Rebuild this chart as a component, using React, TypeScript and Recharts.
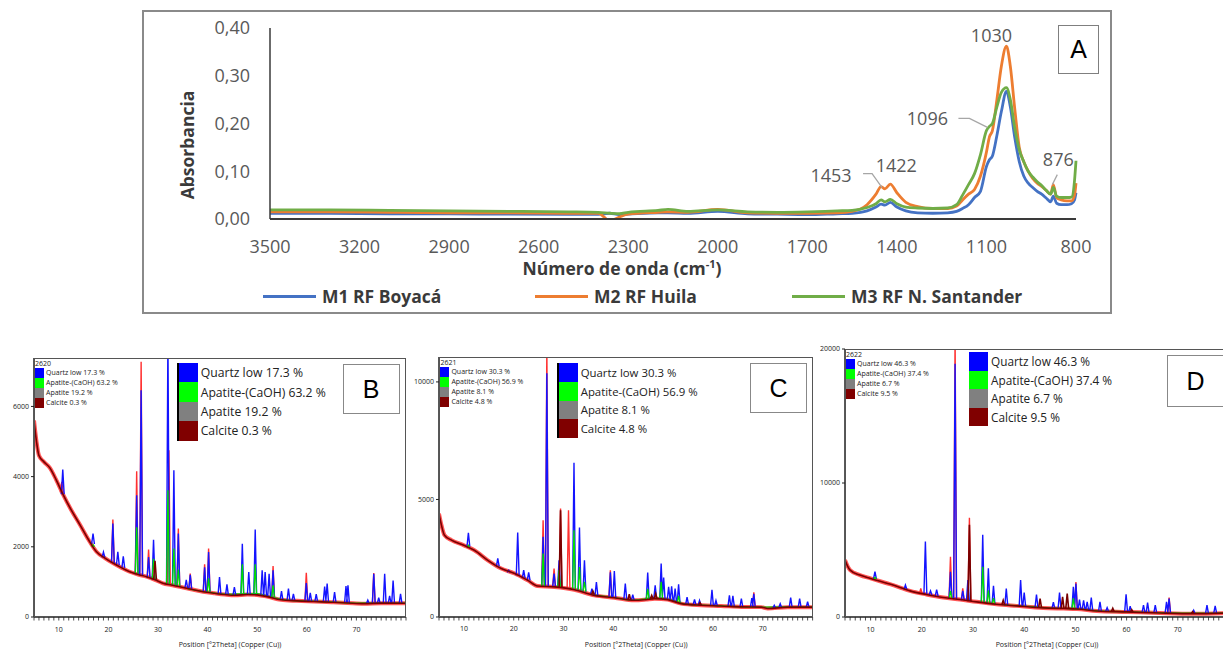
import React from 'react';
import { LineChart, Line, XAxis, YAxis, ReferenceDot } from 'recharts';

// ---------- panel A: FTIR ----------
const wavenumbers = [3500, 3300, 3100, 2900, 2700, 2500, 2400, 2362, 2330, 2300, 2200, 2167, 2100, 2000, 1900, 1800, 1700, 1600, 1550, 1500, 1470, 1453, 1440, 1422, 1400, 1370, 1330, 1280, 1230, 1200, 1180, 1160, 1140, 1120, 1100, 1090, 1080, 1065, 1050, 1033, 1020, 1005, 990, 975, 960, 945, 930, 915, 900, 885, 876, 865, 850, 830, 815, 805, 800];
const m1Boyaca = [0.012, 0.012, 0.011, 0.011, 0.010, 0.010, 0.010, 0.012, 0.009, 0.010, 0.013, 0.013, 0.012, 0.016, 0.011, 0.010, 0.009, 0.011, 0.012, 0.017, 0.025, 0.031, 0.029, 0.035, 0.025, 0.017, 0.013, 0.012, 0.013, 0.016, 0.022, 0.030, 0.045, 0.058, 0.110, 0.124, 0.132, 0.175, 0.225, 0.267, 0.235, 0.170, 0.120, 0.090, 0.075, 0.066, 0.058, 0.052, 0.044, 0.036, 0.048, 0.033, 0.030, 0.030, 0.032, 0.040, 0.055];
const m2Huila = [0.015, 0.015, 0.014, 0.013, 0.013, 0.012, 0.012, -0.004, 0.004, 0.010, 0.014, 0.015, 0.014, 0.020, 0.013, 0.012, 0.012, 0.013, 0.016, 0.030, 0.052, 0.068, 0.063, 0.073, 0.055, 0.035, 0.026, 0.022, 0.022, 0.027, 0.040, 0.052, 0.062, 0.090, 0.140, 0.172, 0.185, 0.250, 0.320, 0.362, 0.320, 0.230, 0.150, 0.120, 0.100, 0.085, 0.075, 0.068, 0.060, 0.052, 0.072, 0.045, 0.040, 0.038, 0.038, 0.050, 0.075];
const m3Santander = [0.019, 0.019, 0.018, 0.017, 0.016, 0.015, 0.014, 0.012, 0.011, 0.014, 0.018, 0.020, 0.016, 0.019, 0.015, 0.014, 0.015, 0.017, 0.018, 0.024, 0.032, 0.040, 0.036, 0.041, 0.032, 0.025, 0.023, 0.022, 0.023, 0.030, 0.050, 0.072, 0.095, 0.135, 0.185, 0.194, 0.200, 0.235, 0.265, 0.275, 0.250, 0.190, 0.145, 0.120, 0.100, 0.088, 0.078, 0.070, 0.060, 0.052, 0.066, 0.048, 0.045, 0.045, 0.046, 0.080, 0.122];
const wnTicks = [3500, 3200, 2900, 2600, 2300, 2000, 1700, 1400, 1100, 800];
const absTicks = [0, 0.1, 0.2, 0.3, 0.4];
const ftirNames = ['M1 RF Boyacá', 'M2 RF Huila', 'M3 RF N. Santander'];
const ftirColors = ['#4472C4', '#ED7D31', '#70AD47'];

const ftirRows = wavenumbers.map((wn, i) => ({ wn, m1: m1Boyaca[i], m2: m2Huila[i], m3: m3Santander[i] }));

// peak labels: text, wavenumber, series it points at
const peakLabels: [string, number, 'm1' | 'm2' | 'm3'][] = [
  ['1030', 1033, 'm2'],
  ['1096', 1090, 'm3'],
  ['1453', 1453, 'm2'],
  ['1422', 1422, 'm2'],
  ['876', 876, 'm2'],
];

// ---------- panels B, C, D: XRD ----------
// background [2theta, counts]
const bgB = [[5.0, 5600], [5.5, 5000], [6.0, 4600], [7.0, 4420], [8.2, 4250], [9.5, 3900], [10.9, 3480], [12.5, 3050], [14.3, 2620], [16.0, 2200], [17.6, 1860], [19.3, 1680], [21.0, 1530], [22.7, 1400], [24.3, 1290], [26.0, 1210], [27.7, 1150], [29.4, 1060], [31.0, 960], [32.7, 910], [34.4, 860], [36.7, 790], [39.1, 720], [41.4, 675], [43.5, 640], [45.5, 620], [48.0, 640], [50.0, 630], [52.0, 580], [54.8, 490], [58.0, 460], [61.5, 440], [65.0, 420], [68.2, 400], [71.5, 380], [75.0, 395], [80.0, 390]];
const apatiteBaseB = [[36, 800], [40, 710], [44, 650], [47, 660], [50, 665], [53, 565], [56, 485], [60, 455], [65, 428], [70, 395], [75, 402], [80, 396]];
// peaks [2theta, base, top]
const quartzB = [[10.8, 3500, 4200], [16.9, 2080, 2380], [19.0, 1700, 1850], [20.9, 1540, 2660], [21.9, 1480, 1860], [23.0, 1400, 1730], [25.7, 1220, 3470], [26.6, 1190, 6460], [28.1, 1120, 1710], [29.1, 1070, 2200], [32.0, 930, 8000], [33.2, 900, 4180], [34.1, 870, 2380], [35.7, 820, 1060], [36.5, 800, 1200], [39.4, 720, 1420], [40.2, 700, 1850], [42.4, 650, 1140], [43.9, 630, 930], [45.4, 620, 850], [47.0, 630, 2090], [48.3, 640, 1280], [49.6, 640, 2490], [51.0, 610, 1330], [51.6, 600, 1280], [52.4, 580, 1230], [53.2, 560, 1330], [54.9, 490, 740], [56.3, 480, 810], [57.3, 470, 660], [59.9, 450, 970], [60.7, 445, 690], [61.9, 440, 650], [63.6, 430, 870], [64.1, 428, 950], [65.6, 420, 710], [67.9, 405, 880], [68.3, 400, 900], [72.3, 385, 480], [73.5, 390, 1230], [74.5, 392, 550], [75.7, 395, 1230], [76.7, 393, 600], [77.4, 392, 1040], [78.9, 390, 660]];
const observedB = [[10.6, 3550, 3850], [20.9, 1540, 2780], [25.7, 1220, 4150], [26.6, 1190, 7270], [28.1, 1120, 1920], [32.2, 925, 4750], [34.1, 870, 2520], [36.5, 800, 1240], [39.4, 720, 1500], [40.2, 700, 1950], [53.2, 560, 1450], [59.9, 450, 1260], [73.5, 390, 1250]];
const apatiteB = [[16.9, 2000, 2060], [25.7, 1220, 2560], [29.1, 1070, 1660], [32.0, 930, 3610], [33.2, 900, 1950], [34.1, 870, 1350], [40.2, 700, 1100], [47.0, 630, 1500], [49.6, 640, 1500], [53.2, 560, 900]];
const calciteB = [[29.4, 1060, 1600]];

const bgC = [[5.0, 4400], [5.5, 3900], [6.1, 3480], [7.5, 3270], [10.0, 3050], [12.1, 2840], [14.8, 2410], [17.5, 2060], [20.2, 1850], [22.8, 1560], [24.8, 1320], [28.2, 1280], [32.2, 1160], [36.2, 920], [40.2, 820], [44.2, 710], [46.5, 740], [48.3, 780], [50.9, 740], [53.6, 570], [57.6, 500], [61.6, 470], [65.7, 430], [69.7, 420], [71.0, 360], [75.0, 420], [80.0, 420]];
const apatiteBaseC = [[36, 935], [40, 835], [44, 725], [48, 800], [51, 760], [54, 565], [58, 505], [62, 475], [66, 435], [70, 422], [75, 424], [80, 426]];
const quartzC = [[10.9, 3000, 3580], [16.8, 2150, 2490], [19.0, 1900, 1990], [20.8, 1780, 3590], [22.0, 1650, 1990], [23.0, 1560, 1900], [25.9, 1300, 3410], [26.65, 1290, 10370], [28.1, 1280, 1850], [29.1, 1250, 2410], [32.1, 1160, 6560], [33.2, 1120, 3810], [34.2, 1080, 2410], [35.7, 960, 1210], [36.6, 920, 1490], [39.4, 840, 1900], [40.2, 820, 1950], [42.4, 760, 1420], [43.9, 720, 950], [46.9, 760, 1890], [48.4, 780, 1350], [49.6, 770, 2270], [50.1, 760, 1680], [51.1, 730, 1280], [51.7, 700, 1310], [52.4, 650, 1210], [53.1, 600, 1390], [54.8, 540, 850], [56.3, 520, 750], [57.3, 500, 700], [59.8, 485, 1160], [60.6, 480, 700], [63.3, 460, 920], [64.0, 455, 900], [65.7, 430, 780], [67.8, 425, 800], [68.2, 425, 990], [72.3, 380, 500], [73.5, 400, 560], [75.6, 420, 820], [77.4, 420, 780], [79.0, 420, 650]];
const observedC = [[25.9, 1300, 4120], [26.65, 1290, 11500], [28.1, 1280, 2060], [29.4, 1240, 4620], [31.0, 1200, 4540], [39.4, 840, 1990], [68.2, 425, 1050]];
const apatiteC = [[10.9, 2950, 3050], [25.9, 1300, 2700], [29.1, 1250, 2000], [32.1, 1160, 3690], [33.2, 1120, 2130], [34.2, 1080, 1500], [46.9, 760, 1200], [49.6, 770, 1500], [53.1, 600, 900]];
const calciteC = [[29.4, 1240, 4540], [35.9, 950, 1100], [43.2, 730, 970], [47.7, 770, 920], [48.5, 780, 1000], [57.4, 500, 600]];

const bgD = [[5.0, 4250], [5.5, 3800], [6.0, 3500], [7.9, 3130], [10.0, 2880], [14.4, 2380], [17.7, 1950], [20.9, 1680], [24.2, 1450], [27.5, 1300], [30.7, 1130], [34.6, 950], [38.5, 830], [43.7, 680], [47.7, 630], [50.3, 600], [54.2, 450], [60.0, 380], [66.5, 300], [73.1, 250], [80.0, 300]];
const apatiteBaseD = [[36, 905], [40, 815], [44, 695], [48, 645], [51, 595], [55, 445], [60, 395], [66, 325], [73, 275], [80, 315]];
const quartzD = [[10.85, 2850, 3380], [16.8, 2050, 2380], [20.7, 1700, 5630], [21.7, 1640, 1950], [22.9, 1560, 2050], [25.6, 1360, 3380], [26.5, 1330, 18900], [28.0, 1250, 1950], [29.0, 1200, 2750], [31.9, 1050, 6130], [33.0, 1000, 3630], [34.0, 960, 2330], [36.5, 880, 2130], [39.3, 820, 2750], [40.0, 800, 1830], [42.4, 730, 1680], [45.7, 650, 1100], [46.9, 640, 1830], [49.6, 610, 2250], [50.1, 600, 2500], [50.8, 580, 1300], [51.6, 560, 1250], [52.3, 540, 1130], [53.1, 500, 1450], [54.8, 440, 1130], [56.2, 420, 700], [59.9, 380, 1700], [60.7, 370, 800], [63.3, 340, 880], [64.1, 330, 1080], [65.6, 310, 880], [67.8, 290, 1130], [68.3, 285, 1380], [73.1, 250, 500], [75.7, 270, 880], [77.3, 290, 830]];
const observedD = [[19.8, 1700, 2130], [25.6, 1360, 4500], [26.5, 1330, 21000], [28.0, 1250, 2130], [29.3, 1180, 7400], [50.1, 600, 2600], [68.3, 285, 1450]];
const apatiteD = [[10.85, 2850, 2950], [25.6, 1360, 1950], [31.9, 1050, 3750], [33.0, 1000, 2000], [34.0, 960, 1400], [49.6, 610, 1400]];
const calciteD = [[29.3, 1180, 6880], [35.9, 900, 1250], [43.1, 700, 1380], [47.5, 630, 1500], [48.4, 620, 1750], [57.3, 400, 650], [61.0, 370, 550], [72.9, 250, 400]];

const phasesB = ['Quartz low 17.3 %', 'Apatite-(CaOH) 63.2 %', 'Apatite 19.2 %', 'Calcite 0.3 %'];
const phasesC = ['Quartz low 30.3 %', 'Apatite-(CaOH) 56.9 %', 'Apatite 8.1 %', 'Calcite 4.8 %'];
const phasesD = ['Quartz low 46.3 %', 'Apatite-(CaOH) 37.4 %', 'Apatite 6.7 %', 'Calcite 9.5 %'];
const phaseColors = ['#0000ff', '#00ff00', '#808080', '#800000'];
const thetaLabels = [10, 20, 30, 40, 50, 60, 70];
const thetaMinor = Array.from({ length: 76 }, (_, i) => i + 5);

const FONT = '"Open Sans", "Liberation Sans", sans-serif';
const SEGOE = '"Open Sans", "Noto Sans", sans-serif';

const toPts = (arr: number[][]) => arr.map(([x, y]) => ({ x, y }));
const spikes = (arr: number[][]) =>
  arr.flatMap(([t, base, top]) => [
    { x: t - 0.28, y: base },
    { x: t, y: top },
    { x: t + 0.28, y: base },
    { x: t + 0.29, y: null as number | null },
  ]);

const ThetaTick = (props: any) => {
  const { x, y, payload } = props;
  const v = payload.value;
  return (
    <g>
      <line x1={x} x2={x} y1={y} y2={y + 3.5} stroke="#222" strokeWidth={0.8} />
      {thetaLabels.includes(v) ? (
        <text x={x} y={y + 12} textAnchor="middle" dominantBaseline="central" fontSize={7} fill="#222" fontFamily={SEGOE}>
          {v}
        </text>
      ) : null}
    </g>
  );
};

type XrdProps = {
  plotLeft: number; plotTop: number; plotW: number; plotH: number;
  yMax: number; yTicks: number[];
  bg: number[][]; apBase: number[][];
  quartz: number[][]; observed: number[][]; apatite: number[][]; calcite: number[][];
  code: string; phases: string[]; letter: string;
  legendDx: number; legendDy: number; rowH: number; legendFont: number; legendBar: boolean;
  boxDx: number; boxW: number; boxH: number;
};

const XrdPanel = (p: XrdProps) => {
  const W = p.plotW + 42;
  const H = p.plotH + 40;
  return (
    <div style={{ position: 'absolute', left: p.plotLeft - 40, top: p.plotTop - 10, width: W, height: H }}>
      <LineChart width={W} height={H} margin={{ top: 10, right: 2, left: 0, bottom: 20 }}>
        <XAxis dataKey="x" type="number" domain={[5, 80]} allowDataOverflow ticks={thetaMinor} interval={0}
          height={10} tickSize={0} tickMargin={0} tickLine={false} tick={<ThetaTick />}
          axisLine={{ stroke: '#222', strokeWidth: 1.5 }} />
        <YAxis type="number" domain={[0, p.yMax]} allowDataOverflow ticks={p.yTicks} width={40}
          tickSize={3} tickMargin={2} tickLine={{ stroke: '#222' }} axisLine={{ stroke: '#222', strokeWidth: 1.5 }}
          tick={{ fontSize: 7, fill: '#222', fontFamily: SEGOE }} />
        <Line data={toPts(p.bg)} dataKey="y" type="monotone" stroke="#ff2a2a" strokeWidth={4} strokeOpacity={0.8} dot={false} isAnimationActive={false} />
        <Line data={toPts(p.apBase)} dataKey="y" type="monotone" stroke="#10d010" strokeWidth={1.4} dot={false} isAnimationActive={false} />
        <Line data={spikes(p.observed)} dataKey="y" type="linear" stroke="#ff3030" strokeWidth={1.4} dot={false} isAnimationActive={false} />
        <Line data={spikes(p.quartz)} dataKey="y" type="linear" stroke="#1414ff" strokeWidth={1.4} dot={false} isAnimationActive={false} />
        <Line data={spikes(p.apatite)} dataKey="y" type="linear" stroke="#00e000" strokeWidth={1.3} dot={false} isAnimationActive={false} />
        <Line data={spikes(p.calcite)} dataKey="y" type="linear" stroke="#7a0000" strokeWidth={1.6} dot={false} isAnimationActive={false} />
        <Line data={toPts(p.bg)} dataKey="y" type="monotone" stroke="#7a0000" strokeWidth={1.6} dot={false} isAnimationActive={false} />
      </LineChart>
      {/* plot frame */}
      <div style={{ position: 'absolute', left: 40, top: 10, width: p.plotW, height: p.plotH, border: '1px solid #555', boxSizing: 'border-box', pointerEvents: 'none' }} />
      {/* small legend */}
      <div style={{ position: 'absolute', left: 41, top: 11, fontFamily: SEGOE, fontSize: 7, color: '#222', lineHeight: '10px' }}>
        <div style={{ height: 9, lineHeight: '9px' }}>{p.code}</div>
        {p.phases.map((t, i) => (
          <div key={t} style={{ display: 'flex', alignItems: 'center', height: 10 }}>
            <span style={{ display: 'inline-block', width: 9, height: 10, background: phaseColors[i], marginRight: 2 }} />
            <span>{t}</span>
          </div>
        ))}
      </div>
      {/* large legend */}
      <div style={{ position: 'absolute', left: 40 + p.legendDx, top: 10 + p.legendDy, fontFamily: SEGOE, fontSize: p.legendFont, color: '#222',
        borderLeft: p.legendBar ? '2px solid #000' : 'none' }}>
        {p.phases.map((t, i) => (
          <div key={t} style={{ display: 'flex', alignItems: 'center', height: p.rowH }}>
            <span style={{ display: 'inline-block', width: 19, height: p.rowH, background: phaseColors[i], marginRight: 3 }} />
            <span style={{ whiteSpace: 'nowrap' }}>{t}</span>
          </div>
        ))}
      </div>
      {/* letter box */}
      <div style={{ position: 'absolute', left: 40 + p.boxDx, top: 16, width: p.boxW, height: p.boxH, border: '1px solid #888', boxSizing: 'border-box',
        background: '#fff', display: 'flex', alignItems: 'center', justifyContent: 'center', fontFamily: '"Liberation Sans", Arial, sans-serif', fontSize: 25, color: '#000' }}>
        {p.letter}
      </div>
      {/* x title */}
      <div style={{ position: 'absolute', left: 40, width: p.plotW + 20, top: 10 + p.plotH + 23, textAlign: 'center', fontFamily: SEGOE, fontSize: 7, color: '#222', whiteSpace: 'nowrap' }}>
        Position [°2Theta] (Copper (Cu))
      </div>
    </div>
  );
};

const FtirPanel = () => {
  const offsets: Record<string, { dx: number; dy: number; leader?: number[][] }> = {
    '1030': { dx: -15, dy: -11 },
    '1096': { dx: -62, dy: -8, leader: [[-31, -8], [-20, -8], [-2, 1]] },
    '1453': { dx: -50, dy: -12, leader: [[-18, -13], [-9, -13], [1, 1]] },
    '1422': { dx: 6, dy: -19 },
    '876': { dx: 5, dy: -26, leader: [[4, -10], [-1, 0]] },
  };
  return (
    <div style={{ position: 'absolute', left: 142, top: 10, width: 970, height: 304, border: '2px solid #8a8a8a', boxSizing: 'border-box' }}>
      <LineChart width={966} height={300} data={ftirRows} margin={{ top: 16, right: 34, bottom: 63, left: 66 }}>
        <XAxis dataKey="wn" type="number" reversed domain={[800, 3500]} ticks={wnTicks} interval={0} height={30}
          tickLine={false} tickSize={0} tickMargin={21} axisLine={{ stroke: '#3a3a3a', strokeWidth: 2 }}
          tick={{ fontSize: 18, fill: '#595959', fontFamily: FONT }} />
        <YAxis type="number" domain={[0, 0.4]} allowDataOverflow ticks={absTicks} width={60}
          tickLine={false} tickSize={0} tickMargin={20} axisLine={{ stroke: '#3a3a3a', strokeWidth: 1.5 }}
          tickFormatter={(v: number) => v.toFixed(2).replace('.', ',')}
          tick={{ fontSize: 18, fill: '#595959', fontFamily: FONT }} />
        <Line dataKey="m1" name={ftirNames[0]} type="monotone" stroke={ftirColors[0]} strokeWidth={2.8} dot={false} isAnimationActive={false} />
        <Line dataKey="m2" name={ftirNames[1]} type="monotone" stroke={ftirColors[1]} strokeWidth={2.8} dot={false} isAnimationActive={false} />
        <Line dataKey="m3" name={ftirNames[2]} type="monotone" stroke={ftirColors[2]} strokeWidth={2.8} dot={false} isAnimationActive={false} />
        {peakLabels.map(([text, wn, key]) => {
          const row = ftirRows.find((r) => r.wn === wn)!;
          const o = offsets[text];
          return (
            <ReferenceDot key={text} x={wn} y={row[key]} r={0} ifOverflow="visible"
              shape={(sp: any) => (
                <g>
                  {o.leader ? (
                    <polyline points={o.leader.map(([a, b]) => `${sp.cx + a},${sp.cy + b}`).join(' ')} fill="none" stroke="#a6a6a6" strokeWidth={1.3} />
                  ) : null}
                  <text x={sp.cx + o.dx} y={sp.cy + o.dy} textAnchor="middle" dominantBaseline="central" fontSize={18} fill="#595959" fontFamily={FONT}>
                    {text}
                  </text>
                </g>
              )} />
          );
        })}
      </LineChart>
      <div style={{ position: 'absolute', left: 43, top: 133, transform: 'translate(-50%, -50%) rotate(-90deg)', fontFamily: FONT, fontWeight: 700, fontSize: 17.5, color: '#3a3a3a', whiteSpace: 'nowrap' }}>
        Absorbancia
      </div>
      <div style={{ position: 'absolute', left: 478, top: 256, transform: 'translate(-50%, -50%)', fontFamily: FONT, fontWeight: 700, fontSize: 17.5, color: '#3a3a3a', whiteSpace: 'nowrap' }}>
        Número de onda (cm<sup style={{ fontSize: 11 }}>-1</sup>)
      </div>
      {ftirNames.map((n, i) => (
        <div key={n} style={{ position: 'absolute', left: [119, 391, 648][i], top: 284, transform: 'translateY(-50%)', display: 'flex', alignItems: 'center',
          fontFamily: FONT, fontWeight: 700, fontSize: 17.5, color: '#3a3a3a', whiteSpace: 'nowrap' }}>
          <span style={{ display: 'inline-block', width: 53, height: 3, background: ftirColors[i], marginRight: 6 }} />
          {n}
        </div>
      ))}
      <div style={{ position: 'absolute', left: 914, top: 13, width: 41, height: 49, border: '1px solid #7f7f7f', boxSizing: 'border-box', display: 'flex',
        alignItems: 'center', justifyContent: 'center', fontFamily: '"Liberation Sans", Arial, sans-serif', fontSize: 25, color: '#000' }}>
        A
      </div>
    </div>
  );
};

export default function App() {
  return (
    <div style={{ position: 'absolute', left: 0, top: 0, width: 1223, height: 650, overflow: 'hidden', background: '#fff' }}>
      <FtirPanel />
      <XrdPanel plotLeft={34} plotTop={358} plotW={372} plotH={259} yMax={7380} yTicks={[0, 2000, 4000, 6000]}
        bg={bgB} apBase={apatiteBaseB} quartz={quartzB} observed={observedB} apatite={apatiteB} calcite={calciteB}
        code="2620" phases={phasesB} letter="B" legendDx={142.7} legendDy={5} rowH={19.4} legendFont={12.2} legendBar
        boxDx={308.7} boxW={57} boxH={50} />
      <XrdPanel plotLeft={439.4} plotTop={357} plotW={373.6} plotH={260} yMax={11060} yTicks={[0, 5000, 10000]}
        bg={bgC} apBase={apatiteBaseC} quartz={quartzC} observed={observedC} apatite={apatiteC} calcite={calciteC}
        code="2621" phases={phasesC} letter="C" legendDx={117.3} legendDy={6} rowH={18.75} legendFont={11.4} legendBar
        boxDx={310.6} boxW={57} boxH={50} />
      <XrdPanel plotLeft={845} plotTop={349} plotW={384} plotH={268} yMax={20000} yTicks={[0, 10000, 20000]}
        bg={bgD} apBase={apatiteBaseD} quartz={quartzD} observed={observedD} apatite={apatiteD} calcite={calciteD}
        code="2622" phases={phasesD} letter="D" legendDx={124} legendDy={3} rowH={18.5} legendFont={11.8} legendBar={false}
        boxDx={322} boxW={57} boxH={52} />
    </div>
  );
}
